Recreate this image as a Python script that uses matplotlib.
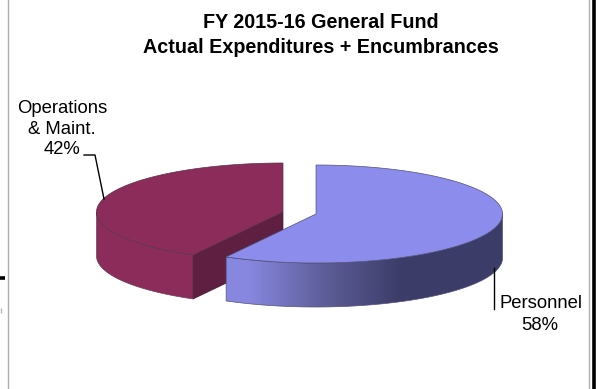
import numpy as np
import matplotlib
matplotlib.use('Agg')
import matplotlib.pyplot as plt
from matplotlib.colors import LinearSegmentedColormap
from matplotlib.patches import Polygon

labels = ['Personnel', 'Operations', '& Maint.']
values = [58, 42]
title_lines = ['FY 2015-16 General Fund', 'Actual Expenditures + Encumbrances']

plt.rcParams['font.family'] = ['Liberation Sans', 'DejaVu Sans']

fig = plt.figure(figsize=(5.99, 3.89), dpi=100)
ax = fig.add_axes([0, 0, 1, 1])
ax.set_xlim(0, 599)
ax.set_ylim(389, 0)
ax.axis('off')

# pie drawn in a flattened projection, one centre per slice because they are pulled apart
rx, ry, depth = 186.5, 49, 44
split = values[0] / sum(values) * 2 * np.pi


def rim(cx, cy, a0, a1, n=120):
    # angle is clockwise from 12 o'clock
    t = np.linspace(a0, a1, n)
    return cx + rx * np.sin(t), cy - ry * np.cos(t)


def wall(x, y):
    return np.r_[np.c_[x, y], np.c_[x[::-1], y[::-1] + depth]]


# operations slice
cx, cy = 283, 212
x, y = rim(cx, cy, split, 2 * np.pi)
left = np.argmin(x)
ax.add_patch(Polygon(wall(x[:left + 1], y[:left + 1]), fc='#8b2c5a', ec='#6a4058', lw=0.5, zorder=2))
ax.add_patch(Polygon([(x[0], y[0]), (cx, cy), (cx, cy + depth), (x[0], y[0] + depth)],
                     fc='#5e1f40', ec='#4a2038', lw=0.5, zorder=2))
ax.add_patch(Polygon(np.r_[[(cx, cy)], np.c_[x, y]], fc='#8b2c5a', ec='#5a3048', lw=0.5, zorder=3))

# personnel slice, the side wall fades from light on the left to dark on the right
cx, cy = 316, 214
x, y = rim(cx, cy, 0, split)
right = np.argmax(x)
side = Polygon(wall(x[right:], y[right:]), fc='none', ec='#50507a', lw=0.5, zorder=5)
ax.add_patch(side)
fade = LinearSegmentedColormap.from_list('fade', ['#8787e0', '#5d5d98', '#3c3c68', '#3c3c68'])
img = ax.imshow(np.array([[0.0, 0.2, 0.4, 0.6, 0.8, 1.0]]), cmap=fade, vmin=0, vmax=1,
                extent=(225, 503, 310, 210), aspect='auto', interpolation='bilinear', zorder=4)
img.set_clip_path(side)
ax.set_xlim(0, 599)
ax.set_ylim(389, 0)
ax.add_patch(Polygon(np.r_[[(cx, cy)], np.c_[x, y]], fc='#8c8cec', ec='#50507a', lw=0.5, zorder=6))

# leader lines
ax.plot([84, 95, 104], [155, 155, 199], color='black', lw=1, zorder=7)
ax.plot([494, 494], [268, 309], color='black', lw=1, zorder=7)

ax.text(62, 108, labels[1], ha='center', va='center', fontsize=13.3)
ax.text(62, 129, labels[2], ha='center', va='center', fontsize=13.3)
ax.text(62, 149, '%d%%' % values[1], ha='center', va='center', fontsize=13.3)
ax.text(541, 304, labels[0], ha='center', va='center', fontsize=13.3)
ax.text(540, 325, '%d%%' % values[0], ha='center', va='center', fontsize=13.3)

ax.text(321, 22, title_lines[0], ha='center', va='center', fontsize=14.2, fontweight='bold')
ax.text(321, 47, title_lines[1], ha='center', va='center', fontsize=14.2, fontweight='bold')

# page furniture around the chart
ax.plot([7.5, 7.5], [0, 389], color='#b0b0b0', lw=1)
ax.plot([588.5, 588.5], [0, 389], color='#b0b0b0', lw=1)
ax.plot([594.2, 594.2], [0, 389], color='black', lw=2.6)
ax.plot([0, 5], [277.5, 277.5], color='black', lw=2.6, solid_capstyle='butt')
ax.plot([0.5, 0.5], [308, 313], color='#b8b8b8', lw=1, solid_capstyle='butt')

fig.savefig('out.png', dpi=100)
